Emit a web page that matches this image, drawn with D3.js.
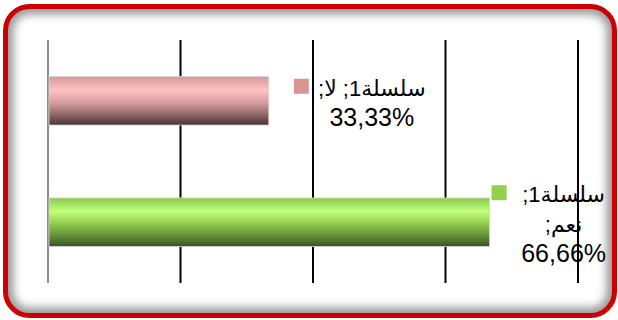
<!DOCTYPE html>
<html>
<head>
<meta charset="utf-8">
<script src="https://cdn.jsdelivr.net/npm/d3@7"></script>
<style>
  body { margin: 0; background: #fff; }
  svg { display: block; font-family: "Liberation Sans", Arial, "DejaVu Sans", sans-serif; }
</style>
</head>
<body>
<div id="chart"></div>
<script>
// chart data
const seriesName = "سلسلة1";
const categories = ["لا", "نعم"];
const values = [33.33, 66.66];
const tickValues = [0, 20, 40, 60, 80];
const barColors = ["pink", "green"];

const width = 618, height = 320;
const margin = {top: 40, right: 40, bottom: 37, left: 48};

let svg = d3.select("#chart")
  .append("svg")
  .attr("width", width)
  .attr("height", height);

let defs = svg.append("defs");

// gradients for the cylinder-ish bars
let grads = {
  pink: [["0%", "#d59a9a"], ["28%", "#ffc2c2"], ["55%", "#d49c9c"], ["80%", "#8a6464"], ["100%", "#4a3434"]],
  green: [["0%", "#8cc850"], ["28%", "#c2ff7c"], ["55%", "#8ec64c"], ["80%", "#5e8c34"], ["100%", "#3a5226"]]
};
Object.keys(grads).forEach(function(k) {
  let g = defs.append("linearGradient")
    .attr("id", "grad-" + k)
    .attr("x1", 0).attr("y1", 0).attr("x2", 0).attr("y2", 1);
  grads[k].forEach(function(s) {
    g.append("stop").attr("offset", s[0]).attr("stop-color", s[1]);
  });
});

// frame: inner shadow + red rounded border
const frame = {x: 5.5, y: 6.5, w: 609, h: 309, r: 24};
defs.append("clipPath").attr("id", "inner")
  .append("rect")
  .attr("x", frame.x).attr("y", frame.y)
  .attr("width", frame.w).attr("height", frame.h)
  .attr("rx", frame.r);
defs.append("filter").attr("id", "blur")
  .attr("x", "-10%").attr("y", "-10%").attr("width", "120%").attr("height", "120%")
  .append("feGaussianBlur").attr("stdDeviation", 4);

svg.append("g")
  .attr("clip-path", "url(#inner)")
  .append("rect")
  .attr("x", frame.x).attr("y", frame.y)
  .attr("width", frame.w).attr("height", frame.h)
  .attr("rx", frame.r)
  .attr("fill", "none")
  .attr("stroke", "#9a9a9a")
  .attr("stroke-width", 16)
  .attr("filter", "url(#blur)");

svg.append("rect")
  .attr("x", frame.x).attr("y", frame.y)
  .attr("width", frame.w).attr("height", frame.h)
  .attr("rx", frame.r)
  .attr("fill", "none")
  .attr("stroke", "#cc0000")
  .attr("stroke-width", 5);

// scales
let x = d3.scaleLinear()
  .domain([0, 80])
  .range([margin.left, width - margin.right]);

let y = d3.scaleBand()
  .domain(categories)
  .range([margin.top, height - margin.bottom])
  .paddingInner(0.6)
  .paddingOuter(0.3);

// gridlines
svg.append("g")
  .selectAll("line")
  .data(tickValues)
  .enter()
  .append("line")
  .attr("x1", function(d) { return x(d); })
  .attr("x2", function(d) { return x(d); })
  .attr("y1", margin.top)
  .attr("y2", height - margin.bottom)
  .attr("stroke", function(d) { return d === 0 ? "#8c8c8c" : "#000"; })
  .attr("stroke-width", 2);

// bars
let data = categories.map(function(c, i) { return {cat: c, val: values[i], color: barColors[i]}; });

svg.append("g")
  .selectAll("rect")
  .data(data)
  .enter()
  .append("rect")
  .attr("x", x(0) + 1)
  .attr("y", function(d) { return y(d.cat); })
  .attr("width", function(d) { return x(d.val) - x(0) - 1; })
  .attr("height", y.bandwidth())
  .attr("fill", function(d) { return "url(#grad-" + d.color + ")"; })
  .attr("stroke", "#d8d8d8")
  .attr("stroke-width", 0.8);

// data labels
const keyColors = {pink: "#d99594", green: "#92d050"};
const labelDx = {"لا": 103, "نعم": 74};
const keyDx = {"لا": -78, "نعم": -72};
function fmt(v) { return v.toFixed(2).replace(".", ",") + "%"; }
function labelLines(d) {
  if (d.cat === "لا") return [seriesName + "; " + d.cat + ";", fmt(d.val)];
  return [seriesName + ";", d.cat + ";", fmt(d.val)];
}

let labels = svg.append("g").selectAll("g")
  .data(data)
  .enter()
  .append("g");

labels.each(function(d) {
  let g = d3.select(this);
  let lines = labelLines(d);
  let cx = x(d.val) + labelDx[d.cat];
  let cy = y(d.cat) + y.bandwidth() / 2;
  let first = cy - (lines.length - 1) * 15 + 10;
  lines.forEach(function(t, i) {
    let last = i === lines.length - 1;
    g.append("text")
      .attr("x", cx)
      .attr("y", first + i * 30)
      .attr("text-anchor", "middle")
      .attr("direction", last ? "ltr" : "rtl")
      .style("font-size", last ? "25px" : "22px")
      .attr("fill", "#000")
      .text(t);
  });
  g.append("rect")
    .attr("x", cx + keyDx[d.cat])
    .attr("y", first - 17)
    .attr("width", 15)
    .attr("height", 15)
    .attr("fill", keyColors[d.color]);
});
</script>
</body>
</html>
